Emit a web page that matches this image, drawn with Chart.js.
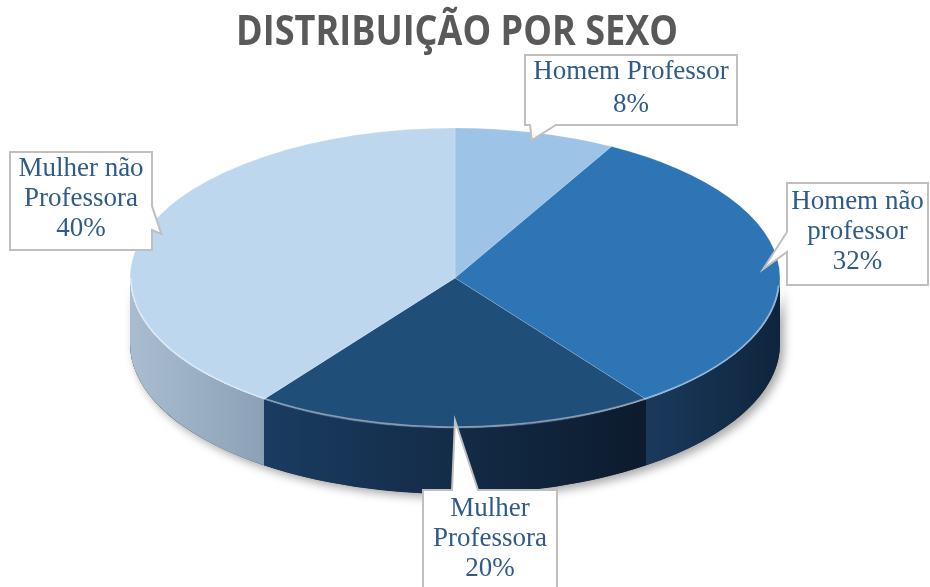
<!DOCTYPE html>
<html>
<head>
<meta charset="utf-8">
<title>Distribuição por sexo</title>
<script src="https://cdn.jsdelivr.net/npm/chart.js"></script>
<style>
  html, body { margin: 0; padding: 0; background: #fff; }
  #wrap { width: 930px; height: 587px; }
</style>
</head>
<body>
<div id="wrap"><canvas id="pieChart" width="930" height="587"></canvas></div>
<script>
// data
const categories = ['Homem Professor', 'Homem não professor', 'Mulher Professora', 'Mulher não Professora'];
const shares = [8, 32, 20, 40];
const labelLines = [['Homem Professor'], ['Homem não', 'professor'], ['Mulher', 'Professora'], ['Mulher não', 'Professora']];
const chartTitle = 'DISTRIBUIÇÃO POR SEXO';

// colours: top face, side wall light -> dark
const topColors = ['#9DC3E6', '#2E75B6', '#1F4E79', '#BDD7EE'];
const sideLight = ['#7FA3C4', '#1A3A5C', '#1A3C61', '#AABDD0'];
const sideDark = ['#5F86A8', '#0F243C', '#0C1B2D', '#8CA1B5'];

// look of the fake 3d
const FLAT = 0.4615;   // vertical squash of the top face
const DEPTH = 66;      // height of the side wall in px

// callout boxes (layout only)
const boxes = [
  { x: 525, y: 55, w: 212, h: 70, side: 'bottom', base: [530, 556] },
  { x: 787, y: 183, w: 141, h: 102, side: 'left', base: [232, 252] },
  { x: 423, y: 490, w: 134, h: 102, side: 'top', base: [452, 478] },
  { x: 10, y: 152, w: 142, h: 98, side: 'right', base: [206, 230] }
];

function norm(a) {
  const t = Math.PI * 2;
  return ((a % t) + t) % t;
}

const pie3d = {
  id: 'pie3d',
  beforeDatasetsDraw(chart) {
    const ctx = chart.ctx;
    const arcs = chart.getDatasetMeta(0).data;
    if (!arcs.length) return;
    const cx = arcs[0].x, cy = arcs[0].y, r = arcs[0].outerRadius, ry = r * FLAT;

    // shadow of the whole wall
    ctx.save();
    ctx.shadowColor = 'rgba(0,0,0,0.35)';
    ctx.shadowBlur = 10;
    ctx.shadowOffsetX = 4;
    ctx.shadowOffsetY = 4;
    ctx.fillStyle = '#1a2a3a';
    ctx.beginPath();
    ctx.ellipse(cx, cy, r, ry, 0, 0, Math.PI);
    ctx.ellipse(cx, cy + DEPTH, r, ry, 0, Math.PI, 0, true);
    ctx.closePath();
    ctx.fill();
    ctx.restore();

    // visible part of the wall for each slice
    arcs.forEach((arc, i) => {
      const s = norm(arc.startAngle);
      const e = s + (arc.endAngle - arc.startAngle);
      const pieces = [[s, e], [s - Math.PI * 2, e - Math.PI * 2], [s + Math.PI * 2, e + Math.PI * 2]];
      pieces.forEach(([a, b]) => {
        const a0 = Math.max(a, 0), a1 = Math.min(b, Math.PI);
        if (a1 <= a0) return;
        const xL = cx + r * Math.cos(a1), xR = cx + r * Math.cos(a0);
        const g = ctx.createLinearGradient(xL, 0, xR, 0);
        g.addColorStop(0, sideLight[i]);
        g.addColorStop(1, sideDark[i]);
        ctx.save();
        ctx.fillStyle = g;
        ctx.beginPath();
        ctx.ellipse(cx, cy, r, ry, 0, a0, a1);
        ctx.ellipse(cx, cy + DEPTH, r, ry, 0, a1, a0, true);
        ctx.closePath();
        ctx.fill();
        ctx.restore();
      });
    });

    // squash the top face
    ctx.save();
    ctx.translate(cx, cy);
    ctx.scale(1, FLAT);
    ctx.translate(-cx, -cy);
  },
  afterDatasetsDraw(chart) {
    const ctx = chart.ctx;
    ctx.restore();
    const arcs = chart.getDatasetMeta(0).data;
    if (!arcs.length) return;
    const cx = arcs[0].x, cy = arcs[0].y, r = arcs[0].outerRadius;
    ctx.save();
    ctx.strokeStyle = 'rgba(255,255,255,0.45)';
    ctx.lineWidth = 1.5;
    ctx.beginPath();
    ctx.ellipse(cx, cy, r - 1, r * FLAT - 1, 0, 0.05, Math.PI);
    ctx.stroke();
    ctx.restore();
  }
};

// title drawn by hand so it can be narrowed like the original condensed face
const narrowTitle = {
  id: 'narrowTitle',
  afterDraw(chart) {
    const ctx = chart.ctx;
    ctx.save();
    ctx.font = 'bold 41px "Open Sans", sans-serif';
    ctx.fillStyle = '#595959';
    ctx.textAlign = 'center';
    ctx.textBaseline = 'alphabetic';
    ctx.translate(457, 45);
    ctx.scale(0.88, 1);
    ctx.fillText(chartTitle, 0, 0);
    ctx.restore();
  }
};

const callouts = {
  id: 'callouts',
  afterDraw(chart) {
    const ctx = chart.ctx;
    const arcs = chart.getDatasetMeta(0).data;
    arcs.forEach((arc, i) => {
      const b = boxes[i];
      const mid = (arc.startAngle + arc.endAngle) / 2;
      const tip = {
        x: arc.x + 0.95 * arc.outerRadius * Math.cos(mid),
        y: arc.y + 0.95 * arc.outerRadius * FLAT * Math.sin(mid)
      };
      ctx.save();
      ctx.beginPath();
      ctx.moveTo(b.x, b.y);
      if (b.side === 'top') {
        ctx.lineTo(b.base[0], b.y); ctx.lineTo(tip.x, tip.y); ctx.lineTo(b.base[1], b.y);
      }
      ctx.lineTo(b.x + b.w, b.y);
      if (b.side === 'right') {
        ctx.lineTo(b.x + b.w, b.base[0]); ctx.lineTo(tip.x, tip.y); ctx.lineTo(b.x + b.w, b.base[1]);
      }
      ctx.lineTo(b.x + b.w, b.y + b.h);
      if (b.side === 'bottom') {
        ctx.lineTo(b.base[1], b.y + b.h); ctx.lineTo(tip.x, tip.y); ctx.lineTo(b.base[0], b.y + b.h);
      }
      ctx.lineTo(b.x, b.y + b.h);
      if (b.side === 'left') {
        ctx.lineTo(b.x, b.base[1]); ctx.lineTo(tip.x, tip.y); ctx.lineTo(b.x, b.base[0]);
      }
      ctx.closePath();
      ctx.fillStyle = '#ffffff';
      ctx.fill();
      ctx.strokeStyle = '#BFBFBF';
      ctx.lineWidth = 2;
      ctx.stroke();

      const lines = labelLines[i].concat(shares[i] + '%');
      const lh = lines.length === 2 ? 33 : 30;
      const cyBox = b.y + b.h / 2 - 2;
      ctx.font = '27px "Liberation Serif", "Times New Roman", serif';
      ctx.fillStyle = '#2E5B8A';
      ctx.textAlign = 'center';
      ctx.textBaseline = 'middle';
      lines.forEach((t, k) => {
        ctx.fillText(t, b.x + b.w / 2, cyBox + (k - (lines.length - 1) / 2) * lh);
      });
      ctx.restore();
    });
  }
};

new Chart(document.getElementById('pieChart'), {
  type: 'pie',
  data: {
    labels: categories,
    datasets: [{
      data: shares,
      backgroundColor: topColors,
      borderWidth: 1,
      borderColor: 'rgba(255,255,255,0.25)',
      radius: 325,
      clip: false
    }]
  },
  options: {
    responsive: false,
    animation: false,
    events: [],
    layout: { padding: { left: 0, right: 20, top: 63, bottom: 94 } },
    plugins: {
      legend: { display: false },
      tooltip: { enabled: false },
      title: { display: false }
    }
  },
  plugins: [pie3d, narrowTitle, callouts]
});
</script>
</body>
</html>
